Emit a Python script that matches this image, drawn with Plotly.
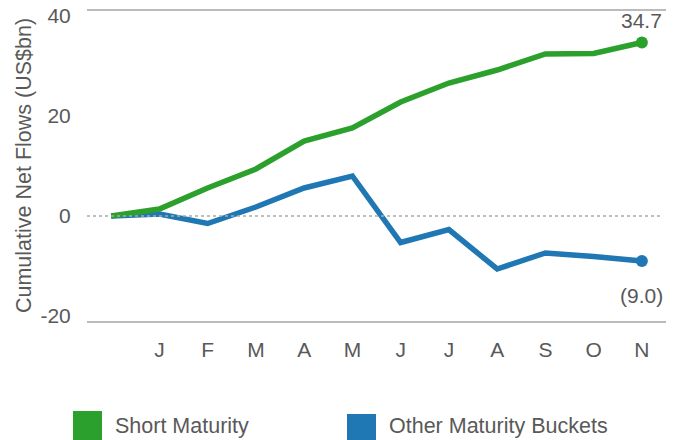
import plotly.graph_objects as go

months = ["", "J", "F", "M", "A", "M", "J", "J", "A", "S", "O", "N"]
short_maturity = [0, 1.4, 5.6, 9.4, 15.0, 17.6, 22.8, 26.6, 29.2, 32.4, 32.5, 34.7]
other_buckets = [0, 0.4, -1.5, 1.8, 5.6, 8.0, -5.3, -2.7, -10.6, -7.4, -8.1, -9.0]
y_ticks = [40, 20, 0, -20]
y_tick_text = ["40", "20", "0", "-20"]
series_names = ["Short Maturity", "Other Maturity Buckets"]
end_labels = ["34.7", "(9.0)"]

GREEN = "#2ca02c"
BLUE = "#1f77b4"
TXT = "#595959"
FONT = "Liberation Sans, Arial, sans-serif"

x = list(range(len(months)))

fig = go.Figure()
fig.add_trace(go.Scatter(x=x, y=other_buckets, mode="lines", line=dict(color=BLUE, width=5.5),
                         name=series_names[1], showlegend=False, hoverinfo="skip"))
fig.add_trace(go.Scatter(x=x, y=short_maturity, mode="lines", line=dict(color=GREEN, width=5.5),
                         name=series_names[0], showlegend=False, hoverinfo="skip"))
fig.add_trace(go.Scatter(x=[x[-1]], y=[short_maturity[-1]], mode="markers",
                         marker=dict(color=GREEN, size=12), showlegend=False, hoverinfo="skip"))
fig.add_trace(go.Scatter(x=[x[-1]], y=[other_buckets[-1]], mode="markers",
                         marker=dict(color=BLUE, size=12), showlegend=False, hoverinfo="skip"))

# zero dotted line
fig.add_shape(type="line", xref="paper", yref="y", x0=0, x1=0.99, y0=0, y1=0,
              line=dict(color="#aaaaaa", width=1.5, dash="dot"))

# end labels
fig.add_annotation(x=x[-1], y=short_maturity[-1], text=end_labels[0], showarrow=False,
                   yshift=22, font=dict(size=21, color=TXT, family=FONT))
fig.add_annotation(x=x[-1], y=other_buckets[-1], text=end_labels[1], showarrow=False,
                   yshift=-34, font=dict(size=21, color=TXT, family=FONT))

# legend as squares + text
PL, PW, PB, PH = 87, 579, 321, 311
legend_items = [(73, 411, GREEN, series_names[0]), (347, 414, BLUE, series_names[1])]
for px, py, col, name in legend_items:
    fig.add_shape(type="rect", xref="paper", yref="paper",
                  x0=(px - PL) / PW, x1=(px + 29 - PL) / PW,
                  y0=(PB - 445) / PH, y1=(PB - py) / PH,
                  fillcolor=col, line=dict(width=0))
    fig.add_annotation(xref="paper", yref="paper", x=(px + 40 - PL) / PW, y=(PB - 426) / PH,
                       text=name, showarrow=False, xanchor="left", yanchor="middle",
                       font=dict(size=21.5, color=TXT, family=FONT))

fig.update_layout(
    width=678, height=440,
    margin=dict(l=PL, r=678 - PL - PW, t=10, b=440 - PB, autoexpand=False),
    paper_bgcolor="white", plot_bgcolor="white",
    font=dict(family=FONT, color=TXT, size=21),
    showlegend=False,
)
fig.update_xaxes(range=[-0.5, 11.5], tickvals=x[1:], ticktext=months[1:], automargin=False,
                 showgrid=False, zeroline=False, showline=True, linecolor="#bbbbbb", linewidth=2,
                 mirror=False, ticks="outside", ticklen=9, tickcolor="rgba(0,0,0,0)",
                 tickfont=dict(size=21, color=TXT))
fig.update_yaxes(range=[-21, 41.2], tickvals=y_ticks, ticktext=y_tick_text, automargin=False,
                 showgrid=False, zeroline=False, showline=False,
                 ticks="outside", ticklen=11, tickcolor="rgba(0,0,0,0)",
                 tickfont=dict(size=21, color=TXT),
                 title=dict(text="Cumulative Net Flows (US$bn)", font=dict(size=21.5, color=TXT), standoff=2))
# top border line
fig.add_shape(type="line", xref="paper", yref="paper", x0=0, x1=1, y0=1, y1=1,
              line=dict(color="#bbbbbb", width=2))

fig.write_html("out.html", config={"displayModeBar": False},
               post_script="document.body.style.margin='0';document.body.style.overflow='hidden';")
